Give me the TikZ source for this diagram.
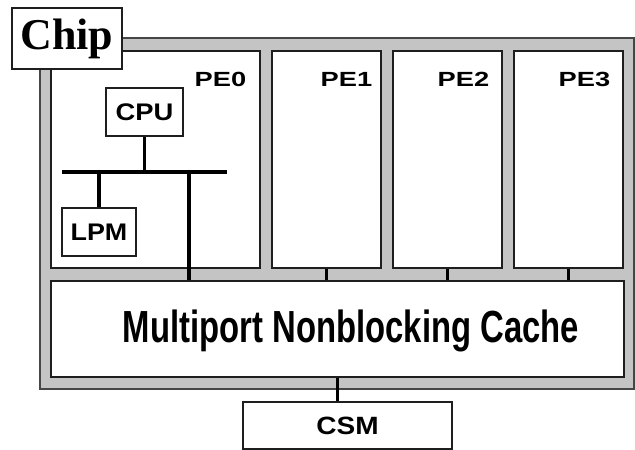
\documentclass[tikz,border=0pt]{standalone}
\usepackage{fontspec}
\setmainfont{Liberation Sans}
\newfontfamily\titlefont{Liberation Serif}
\begin{document}
\begin{tikzpicture}[x=1pt,y=-1pt,
  chipfill/.style={draw={rgb,255:red,70;green,70;blue,70}, line width=1.2pt,
    fill={rgb,255:red,196;green,196;blue,196}},
  unit/.style={draw={rgb,255:red,30;green,30;blue,30}, line width=1.2pt, fill=white,
    inner sep=0pt},
  lbl/.style={font=\bfseries, inner sep=0pt},
  wire/.style={line width=3.2pt, black},
  stub/.style={line width=2.8pt, black}]
\useasboundingbox (0,0) rectangle (635,450);

% chip substrate
\node[chipfill, minimum width=594, minimum height=351, inner sep=0pt] (chip) at (337,213.5) {};

% processing elements
\node[unit, minimum width=209, minimum height=217] (pe0) at (155.5,159.5) {};
\node[unit, minimum width=109, minimum height=217] (pe1) at (326.5,159.5) {};
\node[unit, minimum width=109, minimum height=217] (pe2) at (447.5,159.5) {};
\node[unit, minimum width=109, minimum height=217] (pe3) at (568.5,159.5) {};

\node[lbl] (pe0l) at (220.5,79) {\fontsize{20.5}{20.5}\selectfont\scalebox{1.33}[1]{PE0}};
\node[lbl] (pe1l) at (346.5,79) {\fontsize{20.5}{20.5}\selectfont\scalebox{1.33}[1]{PE1}};
\node[lbl] (pe2l) at (463.5,79) {\fontsize{20.5}{20.5}\selectfont\scalebox{1.33}[1]{PE2}};
\node[lbl] (pe3l) at (584.5,79) {\fontsize{20.5}{20.5}\selectfont\scalebox{1.33}[1]{PE3}};

% chip title tab, on top of the substrate corner
\node[unit, minimum width=110, minimum height=61] (chiplbl) at (67,38.5)
  {\titlefont\bfseries\fontsize{44}{44}\selectfont Chip};

% cache and shared memory
\node[unit, minimum width=573, minimum height=96] (cache) at (337.5,329) {};
\node[lbl] (cachel) at (351,331) {\fontsize{45}{45}\selectfont\scalebox{0.73}[1]{Multiport Nonblocking Cache}};
\node[unit, minimum width=209, minimum height=47,
  font=\bfseries\fontsize{25}{25}\selectfont] (csm) at (347.5,425.5) {\scalebox{1.12}[1]{CSM}};

% inside PE0
\node[unit, minimum width=77, minimum height=48,
  font=\bfseries\fontsize{24}{24}\selectfont] (cpu) at (144.5,112) {\scalebox{1.14}[1]{CPU}};
\node[unit, minimum width=74, minimum height=48,
  font=\bfseries\fontsize{24}{24}\selectfont] (lpm) at (99,232) {\scalebox{1.12}[1]{LPM}};

\coordinate (busl) at (62,172);
\coordinate (busr) at (227,172);
\coordinate (tap) at (189,172);
\draw[wire] (busl) -- (busr);
\draw[wire] (cpu.south) -- (cpu.south |- busl);
\draw[wire] (lpm.north) -- (lpm.north |- busl);
\draw[wire] (tap) -- (tap |- cache.north);

% PE ports and memory link
\draw[stub] (pe1.south) -- (pe1.south |- cache.north);
\draw[stub] (pe2.south) -- (pe2.south |- cache.north);
\draw[stub] (pe3.south) -- (pe3.south |- cache.north);
\draw[stub] (cache.south) -- (cache.south |- csm.north);
\end{tikzpicture}
\end{document}
